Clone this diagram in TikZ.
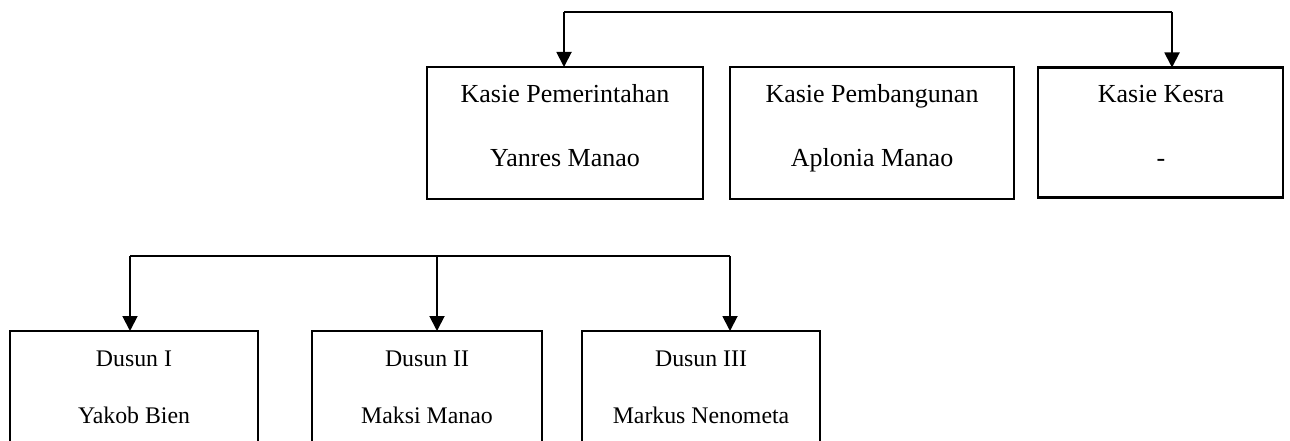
\documentclass[tikz,border=0pt]{standalone}
\usepackage{fontspec}
\setmainfont{Liberation Serif}
\usetikzlibrary{arrows.meta}
\begin{document}
\begin{tikzpicture}[x=1pt,y=-1pt,
  box/.style={draw,line width=2.2pt,minimum height=132pt,inner sep=0pt,outer sep=0pt},
  lowbox/.style={draw,line width=2.2pt,minimum height=160pt,inner sep=0pt,outer sep=0pt},
  toptext/.style={anchor=base,inner sep=0pt,font=\fontsize{26}{30}\selectfont},
  lowtext/.style={anchor=base,inner sep=0pt,font=\fontsize{23.8}{28}\selectfont},
  link/.style={line width=1.9pt},
  arr/.style={line width=1.9pt,-{Triangle[length=15pt,width=15pt]}}]
\useasboundingbox (0,0) rectangle (1290,441);
\clip (0,0) rectangle (1290,441);
% top boxes
\node[box,minimum width=276pt] (k1) at (565,133) {};
\node[box,minimum width=284pt] (k2) at (872,133) {};
\node[box,minimum width=245pt,minimum height=130pt] (k3) at (1160.5,132.5) {};
\node[toptext] (k1t) at (565,103) {Kasie Pemerintahan};
\node[toptext] (k1n) at (565,166) {Yanres Manao};
\node[toptext] (k2t) at (872,103) {Kasie Pembangunan};
\node[toptext] (k2n) at (872,166) {Aplonia Manao};
\node[toptext] (k3t) at (1161,103) {Kasie Kesra};
\node[toptext] (k3n) at (1161,166) {-};
% top connector
\coordinate (tl) at (564,12);
\coordinate (tr) at (1172,12);
\draw[link] (tl) -- (tr);
\draw[arr] (tl) -- (tl |- k1.north);
\draw[arr] (tr) -- (tr |- k3.north);
% bottom boxes
\node[lowbox,minimum width=248pt] (d1) at (134,411) {};
\node[lowbox,minimum width=230pt] (d2) at (427,411) {};
\node[lowbox,minimum width=238pt] (d3) at (701,411) {};
\node[lowtext] (d1t) at (134,366) {Dusun I};
\node[lowtext] (d1n) at (134,423) {Yakob Bien};
\node[lowtext] (d2t) at (427,366) {Dusun II};
\node[lowtext] (d2n) at (427,423) {Maksi Manao};
\node[lowtext] (d3t) at (701,366) {Dusun III};
\node[lowtext] (d3n) at (701,423) {Markus Nenometa};
% bottom connector
\coordinate (bl) at (130,256);
\coordinate (bm) at (437,256);
\coordinate (br) at (730,256);
\draw[link] (bl) -- (br);
\draw[arr] (bl) -- (bl |- d1.north);
\draw[arr] (bm) -- (bm |- d2.north);
\draw[arr] (br) -- (br |- d3.north);
\end{tikzpicture}
\end{document}
